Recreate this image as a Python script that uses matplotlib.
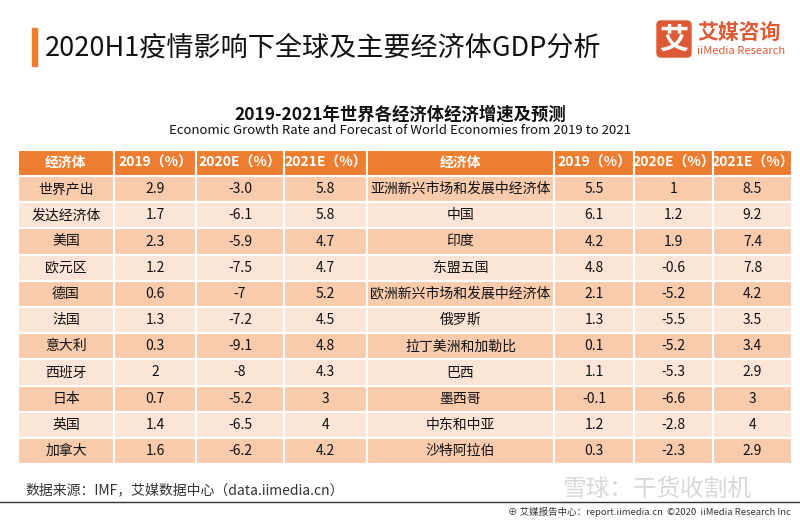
import matplotlib
matplotlib.use("Agg")
import matplotlib.pyplot as plt
from matplotlib.patches import Rectangle, FancyBboxPatch

plt.rcParams['font.family'] = ['Noto Sans CJK SC', 'DejaVu Sans']

# 表格数据
headers = ["经济体", "2019（%）", "2020E（%）", "2021E（%）"]
left_names = ["世界产出", "发达经济体", "美国", "欧元区", "德国", "法国",
              "意大利", "西班牙", "日本", "英国", "加拿大"]
left_2019 = ["2.9", "1.7", "2.3", "1.2", "0.6", "1.3", "0.3", "2", "0.7", "1.4", "1.6"]
left_2020 = ["-3.0", "-6.1", "-5.9", "-7.5", "-7", "-7.2", "-9.1", "-8", "-5.2", "-6.5", "-6.2"]
left_2021 = ["5.8", "5.8", "4.7", "4.7", "5.2", "4.5", "4.8", "4.3", "3", "4", "4.2"]
right_names = ["亚洲新兴市场和发展中经济体", "中国", "印度", "东盟五国",
               "欧洲新兴市场和发展中经济体", "俄罗斯", "拉丁美洲和加勒比", "巴西",
               "墨西哥", "中东和中亚", "沙特阿拉伯"]
right_2019 = ["5.5", "6.1", "4.2", "4.8", "2.1", "1.3", "0.1", "1.1", "-0.1", "1.2", "0.3"]
right_2020 = ["1", "1.2", "1.9", "-0.6", "-5.2", "-5.5", "-5.2", "-5.3", "-6.6", "-2.8", "-2.3"]
right_2021 = ["8.5", "9.2", "7.4", "7.8", "4.2", "3.5", "3.4", "2.9", "3", "4", "2.9"]

ORANGE = "#ED7D31"
DARK = "#F8CBAD"
LIGHT = "#FCE4D6"

fig = plt.figure(figsize=(8, 5.2), dpi=100)
ax = fig.add_axes([0, 0, 1, 1])
ax.set_xlim(0, 800)
ax.set_ylim(520, 0)
ax.axis("off")

# 标题
ax.add_patch(Rectangle((32, 28), 5, 38, color=ORANGE))
ax.text(45, 48, "2020H1疫情影响下全球及主要经济体GDP分析", fontsize=19.5,
        va="center", ha="left", color="#111111")

# logo
ax.add_patch(FancyBboxPatch((657, 21), 34, 36, boxstyle="round,pad=0,rounding_size=4",
                            color="#DC5A36"))
ax.text(674, 40, "艾", fontsize=21, color="white", ha="center", va="center", weight="bold")
ax.text(697, 32, "艾媒咨询", fontsize=15, color="#DC5A36", ha="left", va="center", weight="bold")
ax.text(697, 51, "iiMedia Research", fontsize=8, color="#DC5A36", ha="left", va="center")

# 副标题
ax.text(400, 115, "2019-2021年世界各经济体经济增速及预测", fontsize=12.5,
        weight="bold", ha="center", va="center", color="#111111")
ax.text(400, 131, "Economic Growth Rate and Forecast of World Economies from 2019 to 2021",
        fontsize=9.5, ha="center", va="center", color="#111111")

# 表格
col_edges = [18, 114, 196, 284, 367, 554, 634, 713, 792]
top = 150
head_h = 26
row_h = 26.2

for c in range(8):
    x0, x1 = col_edges[c], col_edges[c + 1]
    ax.add_patch(Rectangle((x0, top), x1 - x0, head_h, facecolor=ORANGE,
                           edgecolor="white", lw=1.5))
    ax.text((x0 + x1) / 2, top + head_h / 2, headers[c % 4], fontsize=10,
            color="white", ha="center", va="center", weight="bold")

cols = [left_names, left_2019, left_2020, left_2021,
        right_names, right_2019, right_2020, right_2021]
for r in range(len(left_names)):
    y0 = top + head_h + r * row_h
    fc = DARK if r % 2 == 0 else LIGHT
    for c in range(8):
        x0, x1 = col_edges[c], col_edges[c + 1]
        ax.add_patch(Rectangle((x0, y0), x1 - x0, row_h, facecolor=fc,
                               edgecolor="white", lw=1.5))
        ax.text((x0 + x1) / 2, y0 + row_h / 2, cols[c][r], fontsize=10,
                color="#111111", ha="center", va="center")

# 页脚
ax.text(25, 490, "数据来源：IMF，艾媒数据中心（data.iimedia.cn）", fontsize=10,
        color="#333333", ha="left", va="center")
ax.plot([0, 800], [502, 502], color="#333333", lw=1)
ax.text(791, 512, "⊕ 艾媒报告中心：report.iimedia.cn  ©2020  iiMedia Research Inc",
        fontsize=6.8, color="#333333", ha="right", va="center")
ax.text(562, 489, "雪球：干货收割机", fontsize=17, color="#C8C8C8", alpha=0.7,
        ha="left", va="center")

fig.savefig("out.png", dpi=100)
